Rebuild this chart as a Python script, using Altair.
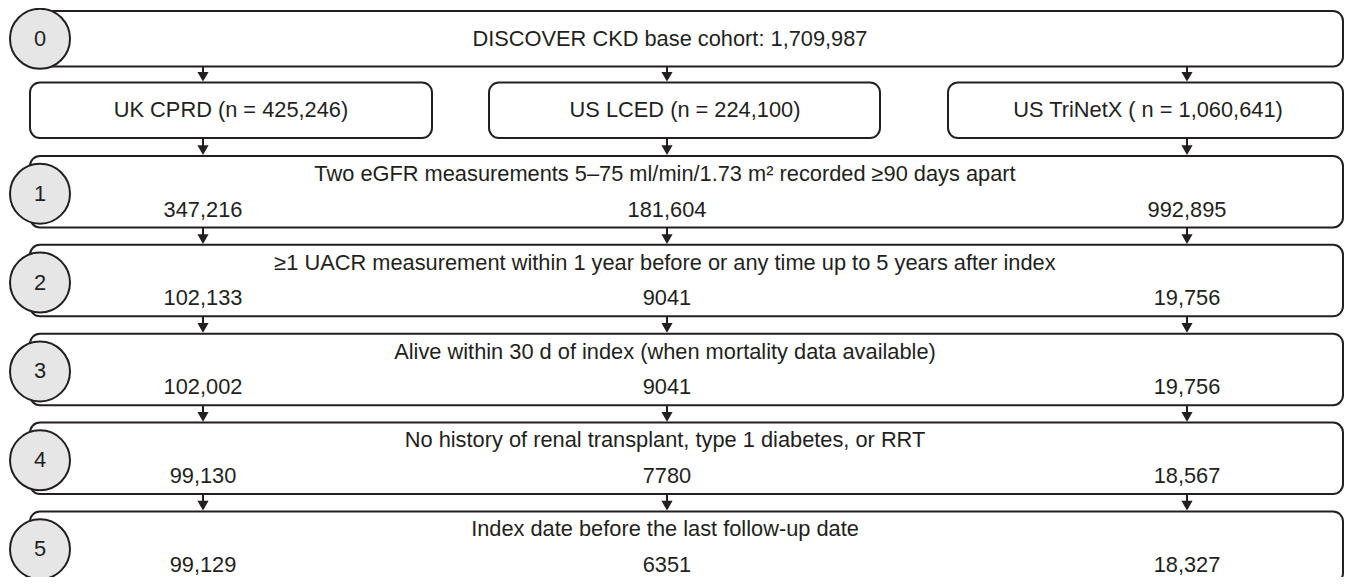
import altair as alt
import pandas as pd

# ---------------- data ----------------
stage_numbers = ["0", "1", "2", "3", "4", "5"]
stage_titles = [
    "DISCOVER CKD base cohort: 1,709,987",
    "Two eGFR measurements 5–75 ml/min/1.73 m² recorded ≥90 days apart",
    "≥1 UACR measurement within 1 year before or any time up to 5 years after index",
    "Alive within 30 d of index (when mortality data available)",
    "No history of renal transplant, type 1 diabetes, or RRT",
    "Index date before the last follow-up date",
]
cohort_labels = ["UK CPRD (n = 425,246)", "US LCED (n = 224,100)", "US TriNetX ( n = 1,060,641)"]
uk_cprd = [347216, 102133, 102002, 99130, 99129]
us_lced = [181604, 9041, 9041, 7780, 6351]
us_trinetx = [992895, 19756, 19756, 18567, 18327]
counts_by_cohort = [uk_cprd, us_lced, us_trinetx]


def fmt(v):
    return f"{v:,}" if v >= 10000 else str(v)


# ---------------- layout ----------------
FONT = "Liberation Sans"
FS = 21.8
INK = "#231f20"
col_x = [203, 667, 1187]
col_box = [(30, 432), (489, 880), (948, 1343)]
col_text_x = [231, 685, 1148]
LEFT, RIGHT = 30, 1343
stage_top = [11] + [157 + 89.5 * i for i in range(5)]
stage_h = [56] + [72] * 5
cohort_top, cohort_h = 83, 56
circle_x = 40
tri_h = 4.8

boxes = [dict(x=40, x2=RIGHT, y=stage_top[0], y2=stage_top[0] + stage_h[0])]
for (a, b) in col_box:
    boxes.append(dict(x=a, x2=b, y=cohort_top, y2=cohort_top + cohort_h))
for i in range(1, 6):
    boxes.append(dict(x=LEFT, x2=RIGHT, y=stage_top[i], y2=stage_top[i] + stage_h[i]))
boxes_df = pd.DataFrame(boxes)

circ = []
for i, n in enumerate(stage_numbers):
    cy = stage_top[i] + stage_h[i] / 2 + (0 if i == 0 else 2)
    circ.append(dict(x=circle_x, y=cy, label=n))
circ_df = pd.DataFrame(circ)

segments = []
for cx in col_x:
    pairs = [(stage_top[0] + stage_h[0], cohort_top), (cohort_top + cohort_h, stage_top[1])]
    for i in range(1, 5):
        pairs.append((stage_top[i] + stage_h[i], stage_top[i + 1]))
    for (a, b) in pairs:
        segments.append(dict(x=cx, y=a, y2=b - tri_h - 1, ty=b - tri_h - 1))
arrows_df = pd.DataFrame(segments)

texts = [dict(x=670, y=stage_top[0] + stage_h[0] / 2, t=stage_titles[0])]
for j, lab in enumerate(cohort_labels):
    texts.append(dict(x=col_text_x[j], y=cohort_top + cohort_h / 2, t=lab))
for i in range(1, 6):
    texts.append(dict(x=665, y=stage_top[i] + 18, t=stage_titles[i]))
    for j in range(3):
        texts.append(dict(x=col_x[j], y=stage_top[i] + 54, t=fmt(counts_by_cohort[j][i - 1])))
text_df = pd.DataFrame(texts)

xs = alt.Scale(domain=[8, 1345], nice=False, zero=False)
ys = alt.Scale(domain=[8, 581], nice=False, zero=False, reverse=True)
X = alt.X("x:Q", scale=xs, axis=None)
Y = alt.Y("y:Q", scale=ys, axis=None)

rects = alt.Chart(boxes_df).mark_rect(
    cornerRadius=10, fill="white", stroke=INK, strokeWidth=2
).encode(x=X, x2="x2:Q", y=Y, y2="y2:Q")

lines = alt.Chart(arrows_df).mark_rule(color=INK, strokeWidth=2).encode(
    x=X, y=Y, y2="y2:Q"
)
heads = alt.Chart(arrows_df).mark_point(
    shape="triangle-down", filled=True, size=125, color=INK, opacity=1, strokeWidth=0
).encode(x=X, y=alt.Y("ty:Q", scale=ys, axis=None))

circles = alt.Chart(circ_df).mark_circle(
    size=3600, color="#e6e6e6", stroke=INK, strokeWidth=2, opacity=1
).encode(x=X, y=Y)
circle_text = alt.Chart(circ_df).mark_text(
    font=FONT, fontSize=FS, color=INK, baseline="middle", align="center"
).encode(x=X, y=Y, text="label:N")

labels = alt.Chart(text_df).mark_text(
    font=FONT, fontSize=FS, color=INK, baseline="middle", align="center"
).encode(x=X, y=Y, text="t:N")

chart = alt.layer(rects, lines, heads, circles, circle_text, labels).properties(
    width=1337, height=569, padding=0, autosize=alt.AutoSizeParams(type="none")
).configure_view(strokeWidth=0)

chart.save("out.html", embed_options={"renderer": "svg", "actions": False})
